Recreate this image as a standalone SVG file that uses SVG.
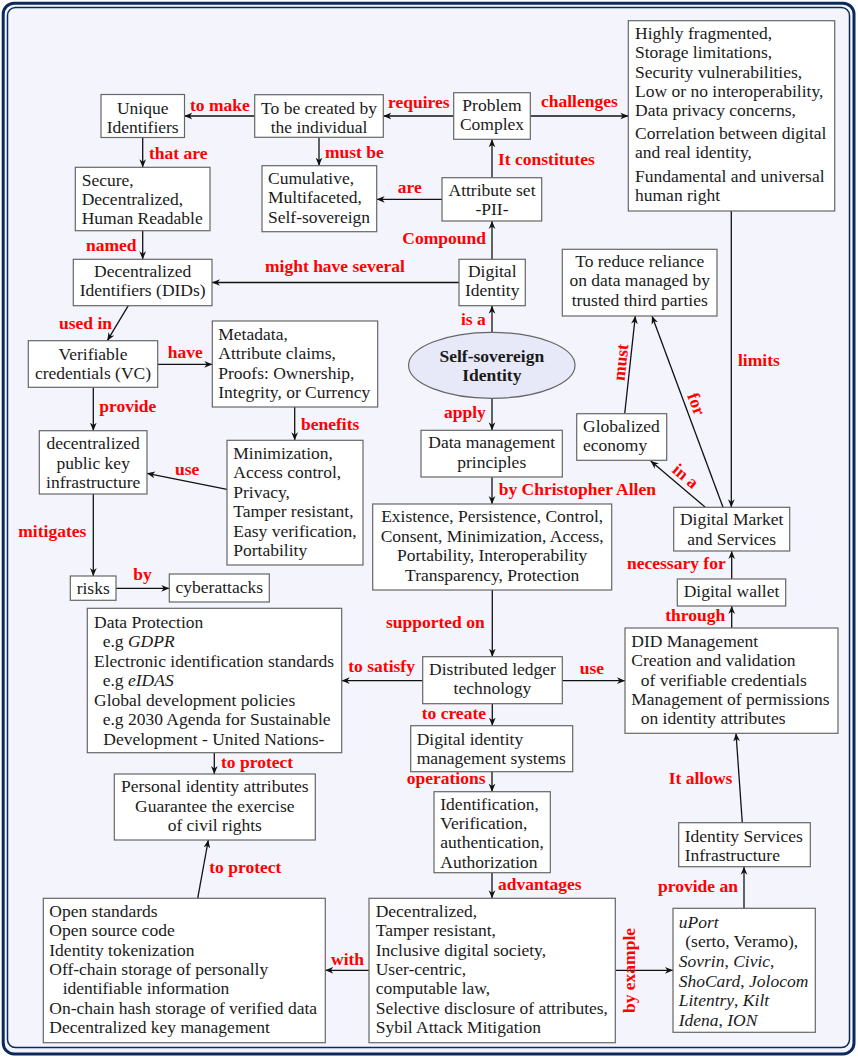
<svg xmlns="http://www.w3.org/2000/svg" width="858" height="1059" viewBox="0 0 858 1059">
<defs>
<style>
.box{fill:#fff;stroke:#666;stroke-width:1.2}
.ell{fill:#e7e9f8;stroke:#666;stroke-width:1.2}
.t{font-family:"Liberation Serif","Times New Roman",serif;font-size:17.5px;fill:#1a1a1a}
.c{text-anchor:middle}
.b{font-weight:bold}
.i{font-style:italic}
.lbl{font-family:"Liberation Serif","Times New Roman",serif;font-size:17.5px;font-weight:bold;fill:#ff0000}
.mid{text-anchor:middle}
.ln{stroke:#111;stroke-width:1.3;fill:none;marker-end:url(#ah)}
</style>
<marker id="ah" viewBox="0 0 10 10" refX="10" refY="5" markerWidth="8" markerHeight="8" markerUnits="userSpaceOnUse" orient="auto">
<path d="M0,0.8 L10,5 L0,9.2 L3,5 z" fill="#111"/>
</marker>
</defs>
<rect x="0" y="0" width="858" height="1059" fill="#ffffff"/>
<rect x="3.2" y="3.2" width="850.8" height="1050.8" rx="11" ry="11" fill="#f4f5fc" stroke="#0b2a5b" stroke-width="3"/>
<rect x="7.5" y="7.5" width="842" height="1040" rx="8" ry="8" fill="none" stroke="#0b2a5b" stroke-width="1.5"/>

<g id="connectors">
<line class="ln" x1="254.7" y1="116" x2="184.3" y2="116"/>
<line class="ln" x1="453.7" y1="116" x2="383.3" y2="116"/>
<line class="ln" x1="530.3" y1="116" x2="628.3" y2="116"/>
<line class="ln" x1="142.7" y1="137.3" x2="142.7" y2="167.3"/>
<line class="ln" x1="319" y1="137.3" x2="319" y2="165.7"/>
<line class="ln" x1="442" y1="199.3" x2="376.7" y2="199.3"/>
<line class="ln" x1="492" y1="177.7" x2="492" y2="139.3"/>
<line class="ln" x1="492" y1="259.3" x2="492" y2="221"/>
<line class="ln" x1="142.7" y1="230.7" x2="142.7" y2="259.3"/>
<line class="ln" x1="459" y1="282.5" x2="212" y2="282.5"/>
<line class="ln" x1="128.3" y1="305.7" x2="107.3" y2="340.7"/>
<line class="ln" x1="157.7" y1="364.3" x2="212.3" y2="364.3"/>
<line class="ln" x1="492" y1="332.3" x2="492" y2="305.7"/>
<line class="ln" x1="294.7" y1="407" x2="294.7" y2="440.3"/>
<line class="ln" x1="93.3" y1="387.3" x2="93.3" y2="430.7"/>
<line class="ln" x1="227" y1="489.3" x2="147" y2="473.3"/>
<line class="ln" x1="492" y1="398.3" x2="492" y2="430.3"/>
<line class="ln" x1="492" y1="477" x2="492" y2="504"/>
<line class="ln" x1="93.3" y1="494" x2="93.3" y2="576"/>
<line class="ln" x1="116" y1="588.3" x2="169.3" y2="588.3"/>
<line class="ln" x1="731.3" y1="211" x2="731.3" y2="507.3"/>
<line class="ln" x1="624.7" y1="413.7" x2="635.3" y2="316"/>
<line class="ln" x1="723" y1="507.3" x2="652" y2="316"/>
<line class="ln" x1="705.3" y1="507.3" x2="650.7" y2="461"/>
<line class="ln" x1="731.7" y1="579" x2="731.7" y2="551"/>
<line class="ln" x1="731.7" y1="628" x2="731.7" y2="606"/>
<line class="ln" x1="492.3" y1="590" x2="492.3" y2="656.7"/>
<line class="ln" x1="422.7" y1="680.7" x2="341.7" y2="680.7"/>
<line class="ln" x1="562.3" y1="680.7" x2="625" y2="680.7"/>
<line class="ln" x1="492.3" y1="703.7" x2="492.3" y2="725.7"/>
<line class="ln" x1="214.3" y1="752.7" x2="214.3" y2="774"/>
<line class="ln" x1="492" y1="771.7" x2="492" y2="791.7"/>
<line class="ln" x1="742.3" y1="822.7" x2="736" y2="733.3"/>
<line class="ln" x1="197.7" y1="898.3" x2="208.3" y2="840"/>
<line class="ln" x1="492" y1="872.7" x2="492" y2="898.3"/>
<line class="ln" x1="369" y1="970.3" x2="325.3" y2="970.3"/>
<line class="ln" x1="615.3" y1="970.3" x2="673" y2="970.3"/>
<line class="ln" x1="744" y1="908.3" x2="744" y2="866.7"/>

<text class="lbl" x="190" y="110.5">to make</text>
<text class="lbl" x="388" y="107.5">requires</text>
<text class="lbl" x="541" y="107">challenges</text>
<text class="lbl" x="149" y="159">that are</text>
<text class="lbl" x="325" y="158.3">must be</text>
<text class="lbl" x="498" y="165">It constitutes</text>
<text class="lbl" x="397.7" y="193.3">are</text>
<text class="lbl" x="86" y="250.7">named</text>
<text class="lbl" x="402.3" y="244">Compound</text>
<text class="lbl" x="265" y="272.3">might have several</text>
<text class="lbl" x="59" y="329">used in</text>
<text class="lbl" x="167.7" y="358.3">have</text>
<text class="lbl" x="461" y="325">is a</text>
<text class="lbl" x="99.3" y="411.7">provide</text>
<text class="lbl" x="301" y="430">benefits</text>
<text class="lbl" x="444" y="418.3">apply</text>
<text class="lbl mid" transform="translate(626.5,363) rotate(-83.8)">must</text>
<text class="lbl" x="738" y="365.7">limits</text>
<text class="lbl mid" transform="translate(691,406) rotate(69.6)">for</text>
<text class="lbl" x="175" y="475">use</text>
<text class="lbl mid" transform="translate(681.8,480.5) rotate(40.3)">in a</text>
<text class="lbl" x="498.7" y="495">by Christopher Allen</text>
<text class="lbl" x="18.3" y="537.3">mitigates</text>
<text class="lbl" x="133.3" y="580">by</text>
<text class="lbl" x="627" y="569.3">necessary for</text>
<text class="lbl" x="665.3" y="621.3">through</text>
<text class="lbl" x="386" y="628">supported on</text>
<text class="lbl" x="348.3" y="671.5">to satisfy</text>
<text class="lbl" x="579.7" y="674.3">use</text>
<text class="lbl" x="421.7" y="719.3">to create</text>
<text class="lbl" x="221" y="767.7">to protect</text>
<text class="lbl" x="406.7" y="784">operations</text>
<text class="lbl" x="668.7" y="784">It allows</text>
<text class="lbl" x="209.3" y="873.3">to protect</text>
<text class="lbl" x="498" y="890">advantages</text>
<text class="lbl" x="658" y="891.5">provide an</text>
<text class="lbl" x="331" y="965">with</text>
<text class="lbl mid" transform="translate(635,970.5) rotate(-90)">by example</text>
</g>

<g id="unique-identifiers">
<rect class="box" x="101" y="94.5" width="83.5" height="43"/>
<text class="t c" x="142.7"><tspan x="142.7" y="113.5">Unique</tspan><tspan x="142.7" y="132.7">Identifiers</tspan></text>
</g>
<g id="to-be-created">
<rect class="box" x="254.7" y="94.7" width="128.6" height="42.6"/>
<text class="t c"><tspan x="319" y="113.5">To be created by</tspan><tspan x="319" y="132.7">the individual</tspan></text>
</g>
<g id="problem-complex">
<rect class="box" x="453.7" y="92.7" width="76.6" height="46.6"/>
<text class="t c"><tspan x="492" y="111">Problem</tspan><tspan x="492" y="130.3">Complex</tspan></text>
</g>
<g id="challenges">
<rect class="box" x="628.3" y="20.7" width="206.4" height="190.3"/>
<text class="t"><tspan x="635" y="38.5">Highly fragmented,</tspan><tspan x="635" y="58.2">Storage limitations,</tspan><tspan x="635" y="77.6">Security vulnerabilities,</tspan><tspan x="635" y="96.8">Low or no interoperability,</tspan><tspan x="635" y="115.8">Data privacy concerns,</tspan><tspan x="635" y="139.3">Correlation between digital</tspan><tspan x="635" y="158.4">and real identity,</tspan><tspan x="635" y="181.7">Fundamental and universal</tspan><tspan x="635" y="200.7">human right</tspan></text>
</g>
<g id="attribute-set">
<rect class="box" x="442" y="177.7" width="99.7" height="43.3"/>
<text class="t c"><tspan x="492" y="195.6">Attribute set</tspan><tspan x="492" y="214.9">-PII-</tspan></text>
</g>
<g id="secure">
<rect class="box" x="75.3" y="167.3" width="134.7" height="63.4"/>
<text class="t"><tspan x="81.7" y="185.6">Secure,</tspan><tspan x="81.7" y="205">Decentralized,</tspan><tspan x="81.7" y="224.3">Human Readable</tspan></text>
</g>
<g id="cumulative">
<rect class="box" x="262" y="165.7" width="114.7" height="66"/>
<text class="t"><tspan x="268" y="184">Cumulative,</tspan><tspan x="268" y="203.3">Multifaceted,</tspan><tspan x="268" y="222.6">Self-sovereign</tspan></text>
</g>
<g id="dids">
<rect class="box" x="73.3" y="259.3" width="138.7" height="46.4"/>
<text class="t c"><tspan x="142.7" y="276.6">Decentralized</tspan><tspan x="142.7" y="296.4">Identifiers (DIDs)</tspan></text>
</g>
<g id="digital-identity">
<rect class="box" x="459" y="259.3" width="66.3" height="46.4"/>
<text class="t c"><tspan x="492.2" y="276.6">Digital</tspan><tspan x="492.2" y="296">Identity</tspan></text>
</g>
<g id="reduce-reliance">
<rect class="box" x="562.3" y="249.3" width="154.7" height="66.7"/>
<text class="t c"><tspan x="639.7" y="266.6">To reduce reliance</tspan><tspan x="639.7" y="286.3">on data managed by</tspan><tspan x="639.7" y="306">trusted third parties</tspan></text>
</g>
<g id="metadata">
<rect class="box" x="212.3" y="321" width="165.4" height="86"/>
<text class="t"><tspan x="218.3" y="340">Metadata,</tspan><tspan x="218.3" y="359.3">Attribute claims,</tspan><tspan x="218.3" y="379">Proofs: Ownership,</tspan><tspan x="218.3" y="398.3">Integrity, or Currency</tspan></text>
</g>
<g id="vc">
<rect class="box" x="28.3" y="340.7" width="129.4" height="46.6"/>
<text class="t c"><tspan x="93" y="360">Verifiable</tspan><tspan x="93" y="379">credentials (VC)</tspan></text>
</g>
<g id="ssi">
<ellipse class="ell" cx="491.8" cy="365.3" rx="83.2" ry="33"/>
<text class="t c b"><tspan x="491.8" y="361.6">Self-sovereign</tspan><tspan x="491.8" y="380.5">Identity</tspan></text>
</g>
<g id="data-management">
<rect class="box" x="421" y="430.3" width="141.3" height="46.7"/>
<text class="t c"><tspan x="491.7" y="448.3">Data management</tspan><tspan x="491.7" y="467.6">principles</tspan></text>
</g>
<g id="globalized">
<rect class="box" x="576.7" y="413.7" width="90" height="46.6"/>
<text class="t"><tspan x="583" y="431.6">Globalized</tspan><tspan x="583" y="450.8">economy</tspan></text>
</g>
<g id="minimization">
<rect class="box" x="227" y="440.3" width="136" height="124.7"/>
<text class="t"><tspan x="233.3" y="459">Minimization,</tspan><tspan x="233.3" y="478.3">Access control,</tspan><tspan x="233.3" y="497.6">Privacy,</tspan><tspan x="233.3" y="517.1">Tamper resistant,</tspan><tspan x="233.3" y="536.6">Easy verification,</tspan><tspan x="233.3" y="556">Portability</tspan></text>
</g>
<g id="pki">
<rect class="box" x="39.3" y="430.7" width="107.7" height="63.3"/>
<text class="t c"><tspan x="93.2" y="449.3">decentralized</tspan><tspan x="93.2" y="469">public key</tspan><tspan x="93.2" y="488.3">infrastructure</tspan></text>
</g>
<g id="digital-market">
<rect class="box" x="673.7" y="507.3" width="116" height="43.7"/>
<text class="t c"><tspan x="731.7" y="525">Digital Market</tspan><tspan x="731.7" y="545">and Services</tspan></text>
</g>
<g id="principles">
<rect class="box" x="372.7" y="504" width="239" height="86"/>
<text class="t c"><tspan x="492.2" y="522">Existence, Persistence, Control,</tspan><tspan x="492.2" y="541.7">Consent, Minimization, Access,</tspan><tspan x="492.2" y="561.2">Portability, Interoperability</tspan><tspan x="492.2" y="580.7">Transparency, Protection</tspan></text>
</g>
<g id="risks">
<rect class="box" x="70.3" y="576" width="45.7" height="24.3"/>
<text class="t c" x="93.2" y="593.8">risks</text>
</g>
<g id="cyberattacks">
<rect class="box" x="169.3" y="574" width="100" height="28"/>
<text class="t c" x="219.3" y="592.6">cyberattacks</text>
</g>
<g id="digital-wallet">
<rect class="box" x="677.3" y="579" width="108.4" height="27"/>
<text class="t c" x="731.5" y="597.3">Digital wallet</text>
</g>
<g id="regulations">
<rect class="box" x="87.3" y="608.3" width="254.4" height="144.4"/>
<text class="t"><tspan x="94" y="627.6">Data Protection</tspan><tspan x="102.7" y="647">e.g <tspan class="i">GDPR</tspan></tspan><tspan x="94" y="666.5">Electronic identification standards</tspan><tspan x="102.7" y="686">e.g <tspan class="i">eIDAS</tspan></tspan><tspan x="94" y="705.5">Global development policies</tspan><tspan x="102.7" y="725">e.g 2030 Agenda for Sustainable</tspan><tspan x="103.3" y="744.5">Development - United Nations-</tspan></text>
</g>
<g id="dlt">
<rect class="box" x="422.7" y="656.7" width="139.6" height="47"/>
<text class="t c"><tspan x="492.5" y="675">Distributed ledger</tspan><tspan x="492.5" y="694.2">technology</tspan></text>
</g>
<g id="did-management">
<rect class="box" x="625" y="628" width="213" height="105.3"/>
<text class="t"><tspan x="631.3" y="646.6">DID Management</tspan><tspan x="631.3" y="666">Creation and validation</tspan><tspan x="640.7" y="685.6">of verifiable credentials</tspan><tspan x="631.3" y="705">Management of permissions</tspan><tspan x="640.7" y="724.3">on identity attributes</tspan></text>
</g>
<g id="dims">
<rect class="box" x="410.7" y="725.7" width="162" height="46"/>
<text class="t"><tspan x="416.7" y="745">Digital identity</tspan><tspan x="416.7" y="764.3">management systems</tspan></text>
</g>
<g id="personal-identity">
<rect class="box" x="114.3" y="774" width="201" height="66"/>
<text class="t c"><tspan x="214.8" y="792.3">Personal identity attributes</tspan><tspan x="214.8" y="811.6">Guarantee the exercise</tspan><tspan x="214.8" y="831">of civil rights</tspan></text>
</g>
<g id="operations">
<rect class="box" x="434" y="791.7" width="116.3" height="81"/>
<text class="t"><tspan x="440.3" y="810">Identification,</tspan><tspan x="440.3" y="829.3">Verification,</tspan><tspan x="440.3" y="848.3">authentication,</tspan><tspan x="440.3" y="867.6">Authorization</tspan></text>
</g>
<g id="identity-services">
<rect class="box" x="678.7" y="822.7" width="131.6" height="44"/>
<text class="t"><tspan x="684.7" y="841.6">Identity Services</tspan><tspan x="684.7" y="861">Infrastructure</tspan></text>
</g>
<g id="open-standards">
<rect class="box" x="43.3" y="898.3" width="282" height="144.4"/>
<text class="t"><tspan x="49.3" y="916.6">Open standards</tspan><tspan x="49.3" y="936">Open source code</tspan><tspan x="49.3" y="955.5">Identity tokenization</tspan><tspan x="49.3" y="975">Off-chain storage of personally</tspan><tspan x="62.7" y="994.3">identifiable information</tspan><tspan x="49.3" y="1013.8">On-chain hash storage of verified data</tspan><tspan x="49.3" y="1033.2">Decentralized key management</tspan></text>
</g>
<g id="advantages">
<rect class="box" x="369" y="898.3" width="246.3" height="144.4"/>
<text class="t"><tspan x="375.7" y="916.6">Decentralized,</tspan><tspan x="375.7" y="936">Tamper resistant,</tspan><tspan x="375.7" y="955.5">Inclusive digital society,</tspan><tspan x="375.7" y="975">User-centric,</tspan><tspan x="375.7" y="994.3">computable law,</tspan><tspan x="375.7" y="1013.8">Selective disclosure of attributes,</tspan><tspan x="375.7" y="1033.2">Sybil Attack Mitigation</tspan></text>
</g>
<g id="examples">
<rect class="box" x="673" y="908.3" width="142.3" height="124"/>
<text class="t"><tspan x="678.7" y="928.3" class="i">uPort</tspan><tspan x="685.3" y="947.3">(serto, Veramo),</tspan><tspan x="678.7" y="967.3"><tspan class="i">Sovrin</tspan>, <tspan class="i">Civic</tspan>,</tspan><tspan x="678.7" y="986.6"><tspan class="i">ShoCard</tspan>, <tspan class="i">Jolocom</tspan></tspan><tspan x="678.7" y="1006"><tspan class="i">Litentry</tspan>, <tspan class="i">Kilt</tspan></tspan><tspan x="678.7" y="1025.6"><tspan class="i">Idena</tspan>, <tspan class="i">ION</tspan></tspan></text>
</g>
</svg>
